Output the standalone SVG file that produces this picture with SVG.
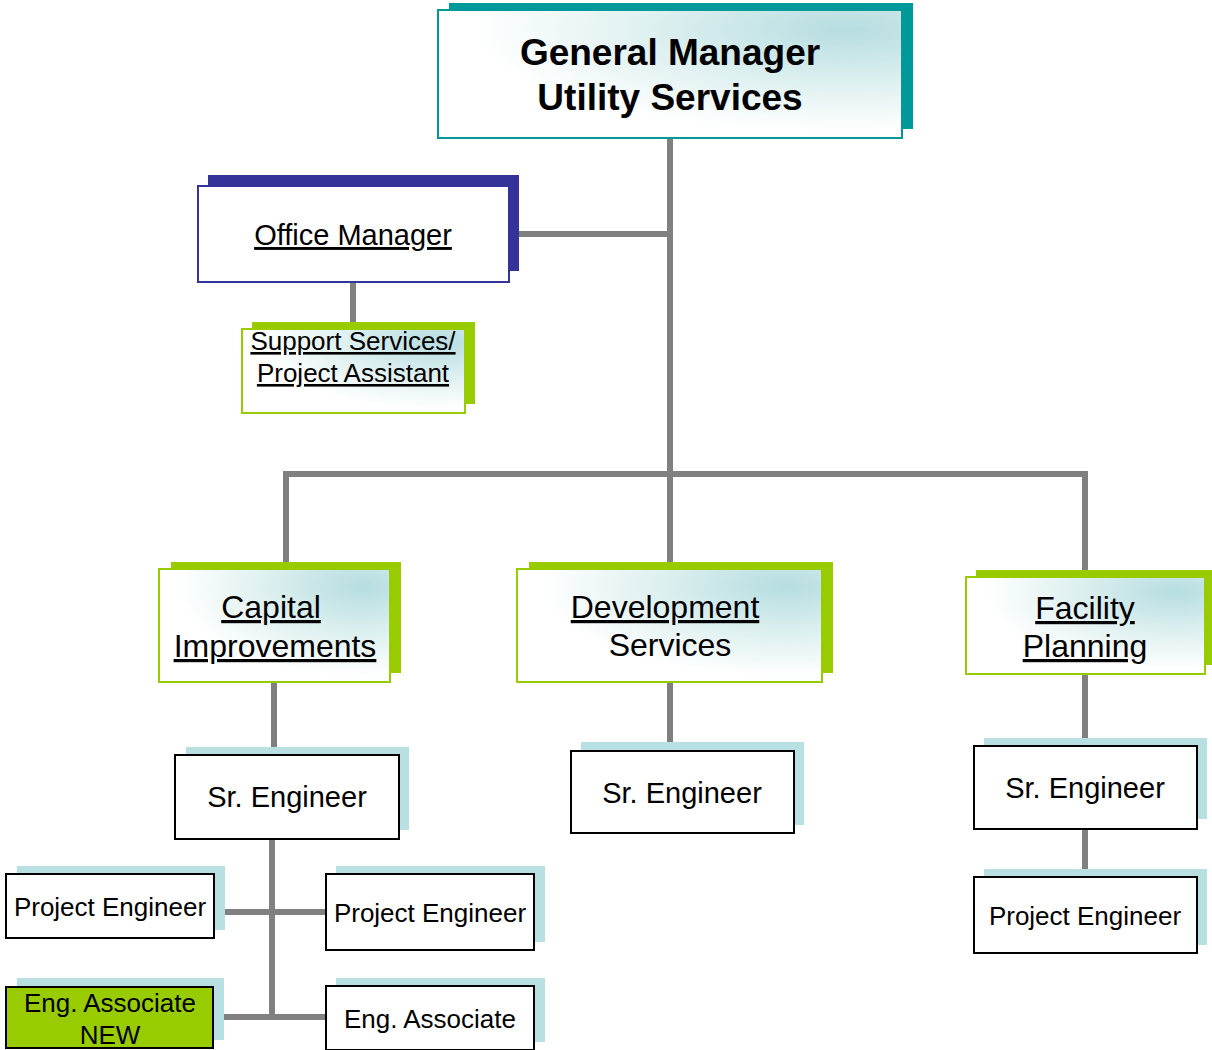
<svg xmlns="http://www.w3.org/2000/svg" width="1212" height="1050" viewBox="0 0 1212 1050">
  <defs>
    <radialGradient id="tealFade" cx="0.88" cy="0.15" r="0.8">
      <stop offset="0" stop-color="#b6dde1"/>
      <stop offset="0.5" stop-color="#dcefef"/>
      <stop offset="1" stop-color="#ffffff"/>
    </radialGradient>
    <style>
      text { font-family: "Liberation Sans", Arial, sans-serif; fill: #000; text-anchor: middle; }
      .conn { stroke: #808080; stroke-width: 6; fill: none; stroke-linecap: butt; }
      .sh-teal { fill: #009999; }
      .sh-navy { fill: #333399; }
      .sh-green { fill: #99cc00; }
      .sh-light { fill: #b8dfe2; }
      .fr-teal { fill: url(#tealFade); stroke: #009999; stroke-width: 2; }
      .fr-navy { fill: #ffffff; stroke: #333399; stroke-width: 2; }
      .fr-green { fill: url(#tealFade); stroke: #99cc00; stroke-width: 2; }
      .fr-black { fill: #ffffff; stroke: #000000; stroke-width: 2; }
      .fr-new { fill: #99cc00; stroke: #000000; stroke-width: 2; }
      .ul { text-decoration: underline; }
    </style>
  </defs>

  <rect width="1212" height="1050" fill="#ffffff"/>

  <!-- connectors -->
  <g id="connectors">
    <line class="conn" x1="670" y1="138" x2="670" y2="565"/>
    <line class="conn" x1="519" y1="234" x2="673" y2="234"/>
    <line class="conn" x1="353" y1="282" x2="353" y2="323"/>
    <polyline class="conn" points="286,565 286,474 1085,474 1085,572"/>
    <line class="conn" x1="274" y1="682" x2="274" y2="748"/>
    <line class="conn" x1="670" y1="682" x2="670" y2="743"/>
    <line class="conn" x1="1085" y1="674" x2="1085" y2="739"/>
    <line class="conn" x1="1085" y1="829" x2="1085" y2="870"/>
    <line class="conn" x1="272" y1="839" x2="272" y2="1020"/>
    <line class="conn" x1="214" y1="912" x2="326" y2="912"/>
    <line class="conn" x1="214" y1="1017" x2="326" y2="1017"/>
  </g>

  <!-- General Manager -->
  <g id="general-manager">
    <rect class="sh-teal" x="449" y="3" width="464" height="126"/>
    <rect class="fr-teal" x="438" y="10" width="464" height="128"/>
    <text x="670" y="65" font-size="37" font-weight="bold">General Manager</text>
    <text x="670" y="110" font-size="37" font-weight="bold">Utility Services</text>
  </g>

  <!-- Office Manager -->
  <g id="office-manager">
    <rect class="sh-navy" x="208" y="175" width="311" height="96"/>
    <rect class="fr-navy" x="198" y="186" width="311" height="96"/>
    <text class="ul" x="353" y="245" font-size="29">Office Manager</text>
  </g>

  <!-- Support Services / Project Assistant -->
  <g id="support-services">
    <rect class="sh-green" x="252" y="322" width="223" height="82"/>
    <rect class="fr-green" x="242" y="329" width="223" height="84"/>
    <text class="ul" x="353" y="350" font-size="26">Support Services/</text>
    <text class="ul" x="353" y="382" font-size="26">Project Assistant</text>
  </g>

  <!-- Capital Improvements -->
  <g id="capital-improvements">
    <rect class="sh-green" x="171" y="562" width="230" height="111"/>
    <rect class="fr-green" x="159" y="569" width="231" height="113"/>
    <text class="ul" x="271" y="618" font-size="32">Capital</text>
    <text class="ul" x="275" y="657" font-size="32">Improvements</text>
  </g>

  <!-- Development Services -->
  <g id="development-services">
    <rect class="sh-green" x="529" y="562" width="304" height="111"/>
    <rect class="fr-green" x="517" y="569" width="305" height="113"/>
    <text class="ul" x="665" y="618" font-size="32">Development</text>
    <text x="670" y="656" font-size="32">Services</text>
  </g>

  <!-- Facility Planning -->
  <g id="facility-planning">
    <rect class="sh-green" x="976" y="570" width="236" height="95"/>
    <rect class="fr-green" x="966" y="577" width="239" height="97"/>
    <text class="ul" x="1085" y="619" font-size="32">Facility</text>
    <text class="ul" x="1085" y="657" font-size="32">Planning</text>
  </g>

  <!-- Sr. Engineer, Capital Improvements -->
  <g id="sr-engineer-ci">
    <rect class="sh-light" x="186" y="747" width="223" height="83"/>
    <rect class="fr-black" x="175" y="755" width="224" height="84"/>
    <text x="287" y="807" font-size="29">Sr. Engineer</text>
  </g>

  <!-- Sr. Engineer, Development Services -->
  <g id="sr-engineer-ds">
    <rect class="sh-light" x="581" y="742" width="223" height="83"/>
    <rect class="fr-black" x="571" y="751" width="223" height="82"/>
    <text x="682" y="803" font-size="29">Sr. Engineer</text>
  </g>

  <!-- Sr. Engineer, Facility Planning -->
  <g id="sr-engineer-fp">
    <rect class="sh-light" x="984" y="738" width="223" height="81"/>
    <rect class="fr-black" x="974" y="746" width="223" height="83"/>
    <text x="1085" y="798" font-size="29">Sr. Engineer</text>
  </g>

  <!-- Project Engineer, Facility Planning -->
  <g id="project-engineer-fp">
    <rect class="sh-light" x="984" y="869" width="223" height="76"/>
    <rect class="fr-black" x="974" y="877" width="223" height="76"/>
    <text x="1085" y="925" font-size="26">Project Engineer</text>
  </g>

  <!-- Project Engineer, left -->
  <g id="project-engineer-left">
    <rect class="sh-light" x="17" y="866" width="208" height="64"/>
    <rect class="fr-black" x="6" y="874" width="208" height="64"/>
    <text x="110" y="916" font-size="26">Project Engineer</text>
  </g>

  <!-- Project Engineer, right -->
  <g id="project-engineer-right">
    <rect class="sh-light" x="336" y="866" width="209" height="76"/>
    <rect class="fr-black" x="326" y="874" width="208" height="76"/>
    <text x="430" y="922" font-size="26">Project Engineer</text>
  </g>

  <!-- Eng. Associate NEW -->
  <g id="eng-associate-new">
    <rect class="sh-light" x="17" y="978" width="207" height="62"/>
    <rect class="fr-new" x="6" y="987" width="207" height="61"/>
    <text x="110" y="1012" font-size="26">Eng. Associate</text>
    <text x="110" y="1044" font-size="26">NEW</text>
  </g>

  <!-- Eng. Associate -->
  <g id="eng-associate">
    <rect class="sh-light" x="336" y="978" width="209" height="64"/>
    <rect class="fr-black" x="326" y="986" width="208" height="64"/>
    <text x="430" y="1028" font-size="26">Eng. Associate</text>
  </g>
</svg>
